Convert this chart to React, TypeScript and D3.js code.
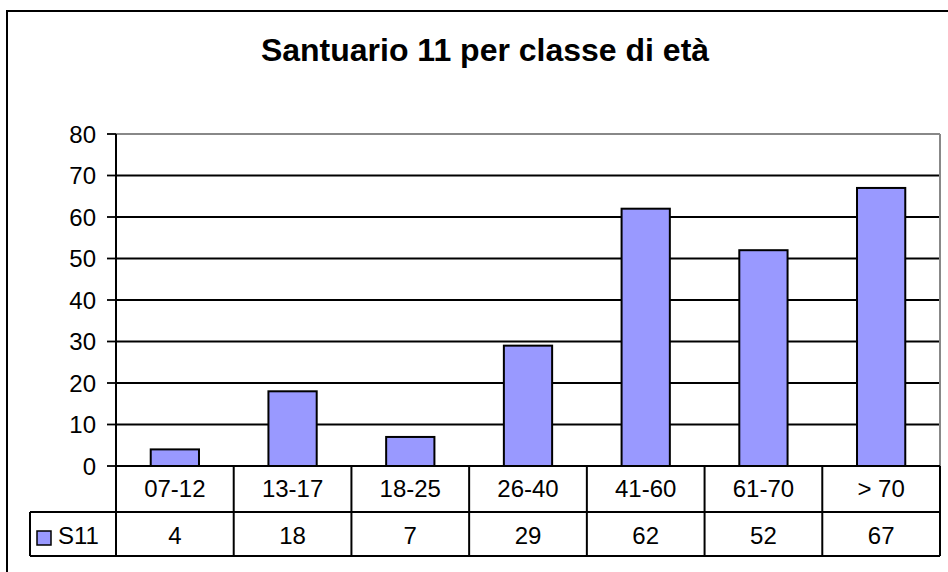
import React from "react";
import * as d3 from "d3";

// chart data
const categories = ["07-12", "13-17", "18-25", "26-40", "41-60", "61-70", "> 70"];
const s11Values = [4, 18, 7, 29, 62, 52, 67];
const yTicks = [0, 10, 20, 30, 40, 50, 60, 70, 80];
const seriesName = "S11";
const title = "Santuario 11 per classe di età";

const W = 948;
const H = 572;
const font = "'Liberation Sans', Arial, sans-serif";

const App = () => {
    // plot area
    const plot = { left: 116, right: 940, top: 134, bottom: 466 };
    const rowH1 = 46;
    const rowH2 = 44;
    const tableLeft = 30;

    const x = d3.scaleBand().domain(categories).range([plot.left, plot.right]).padding(0);
    const y = d3.scaleLinear().domain([0, 80]).range([plot.bottom, plot.top]);
    const barW = x.bandwidth() * 0.41;

    const row1Bottom = plot.bottom + rowH1;
    const row2Bottom = row1Bottom + rowH2;

    return (
        <svg width={W} height={H} style={{ position: "absolute", left: 0, top: 0, background: "#fff" }}>
            {/* outer chart border, cut by the picture edges */}
            <rect x={7} y={11} width={W + 20} height={H + 20} fill="#fff" stroke="#000" strokeWidth={2} />

            <text x={485} y={61} textAnchor="middle" fontFamily={font} fontWeight="bold" fontSize={32}>
                {title}
            </text>

            {/* gridlines */}
            {yTicks.filter(t => t > 0 && t < 80).map(t => (
                <line key={t} x1={plot.left} x2={plot.right} y1={y(t)} y2={y(t)} stroke="#000" strokeWidth={1.8} />
            ))}

            {/* plot area border (gray) */}
            <line x1={plot.left} x2={plot.right} y1={y(80)} y2={y(80)} stroke="#888" strokeWidth={2} />
            <line x1={plot.right} x2={plot.right} y1={y(80)} y2={plot.bottom} stroke="#888" strokeWidth={2} />

            {/* bars */}
            {categories.map((c, i) => (
                <rect
                    key={c}
                    x={x(c)! + (x.bandwidth() - barW) / 2}
                    y={y(s11Values[i])}
                    width={barW}
                    height={y(0) - y(s11Values[i])}
                    fill="#9999FF"
                    stroke="#000"
                    strokeWidth={2}
                />
            ))}

            {/* y axis */}
            <line x1={plot.left} x2={plot.left} y1={y(80)} y2={row2Bottom} stroke="#000" strokeWidth={2} />
            {yTicks.map(t => (
                <g key={t}>
                    <line x1={plot.left - 9} x2={plot.left} y1={y(t)} y2={y(t)} stroke="#000" strokeWidth={1.8} />
                    <text x={plot.left - 20} y={y(t) + 8.5} textAnchor="end" fontFamily={font} fontSize={24}>
                        {t}
                    </text>
                </g>
            ))}

            {/* data table */}
            <line x1={plot.left} x2={plot.right} y1={plot.bottom} y2={plot.bottom} stroke="#000" strokeWidth={2} />
            <line x1={tableLeft} x2={plot.right} y1={row1Bottom} y2={row1Bottom} stroke="#000" strokeWidth={2} />
            <line x1={tableLeft} x2={plot.right} y1={row2Bottom} y2={row2Bottom} stroke="#000" strokeWidth={2} />
            <line x1={tableLeft} x2={tableLeft} y1={row1Bottom} y2={row2Bottom} stroke="#000" strokeWidth={2} />
            <line x1={plot.right} x2={plot.right} y1={plot.bottom} y2={row2Bottom} stroke="#000" strokeWidth={2} />
            {categories.map((c, i) => (
                <g key={c}>
                    {i > 0 && (
                        <line x1={x(c)!} x2={x(c)!} y1={plot.bottom} y2={row2Bottom} stroke="#000" strokeWidth={2} />
                    )}
                    <text x={x(c)! + x.bandwidth() / 2} y={plot.bottom + 31} textAnchor="middle" fontFamily={font} fontSize={24}>
                        {c}
                    </text>
                    <text x={x(c)! + x.bandwidth() / 2} y={row1Bottom + 32} textAnchor="middle" fontFamily={font} fontSize={24}>
                        {s11Values[i]}
                    </text>
                </g>
            ))}

            {/* legend key in table */}
            <rect x={37} y={531} width={14} height={14} fill="#9999FF" stroke="#000" strokeWidth={1.5} />
            <text x={58} y={row1Bottom + 32} fontFamily={font} fontSize={24}>
                {seriesName}
            </text>
        </svg>
    );
};

export default App;
